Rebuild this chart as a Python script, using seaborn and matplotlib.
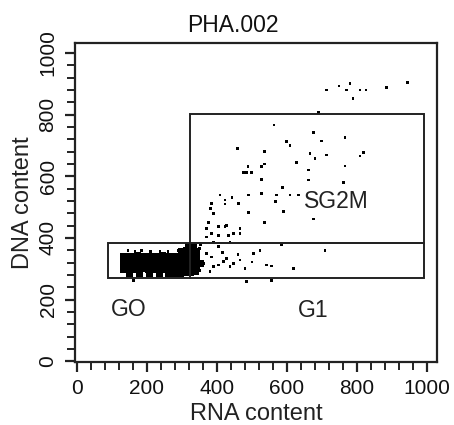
import matplotlib
matplotlib.use("Agg")
import matplotlib.pyplot as plt
import seaborn as sns
import pandas as pd
from matplotlib.patches import Rectangle
from matplotlib.ticker import MultipleLocator

# ---------------- data ----------------
title = "PHA.002"
x_label = "RNA content"
y_label = "DNA content"
x_ticks = [0, 200, 400, 600, 800, 1000]
y_ticks = [0, 200, 400, 600, 800, 1000]

# gates
gate_names = ["GO", "G1", "SG2M"]
gate_x0 = [89, 323, 323]
gate_x1 = [323, 991, 991]
gate_y0 = [270, 270, 383]
gate_y1 = [383, 383, 801]
label_names = ["GO", "G1", "SG2M"]
label_x = [98, 632, 650]
label_y = [169, 166, 517]

# dense G0 cluster
blob_x = [132, 146, 160, 174, 188, 202, 216, 230, 244, 258, 272, 286, 300, 314, 326,
          132, 146, 160, 174, 188, 202, 216, 230, 244, 258, 272, 286, 300, 314, 326, 340,
          132, 146, 160, 174, 188, 202, 216, 230, 244, 258, 272, 286, 300, 314, 326, 340, 354,
          134, 148, 162, 176, 190, 204, 218, 232, 246, 260, 274, 288, 302, 316, 328, 342,
          150, 178, 206, 236, 262, 280, 296, 310, 324, 338,
          300, 314, 328, 342, 318, 332]
blob_y = [340, 341, 339, 342, 340, 338, 341, 340, 342, 339, 341, 340, 342, 344, 345,
          326, 325, 327, 326, 324, 326, 327, 325, 326, 328, 326, 325, 327, 328, 330, 332,
          312, 313, 311, 312, 314, 312, 311, 313, 312, 311, 313, 312, 314, 313, 315, 316, 318,
          298, 299, 297, 298, 300, 298, 297, 299, 298, 297, 299, 298, 300, 301, 302, 304,
          284, 285, 283, 285, 284, 286, 285, 287, 288, 290,
          356, 358, 360, 355, 372, 370]

# sparse events
sparse_x = [713, 749, 771, 780, 789, 809, 826, 885, 944, 690,
            563, 677, 766, 599, 609, 699, 458, 537, 666, 680, 713, 818, 809, 628, 535,
            528, 489, 485, 475, 499, 766, 661, 661, 528, 761, 588, 609, 633, 571, 528,
            490, 443, 423, 409, 385, 381, 390, 423, 462, 567, 590, 490, 537, 677, 376,
            371, 405, 423, 466, 404, 385, 433, 466, 428, 447, 371, 390, 437,
            585, 709, 523, 504, 542, 556, 618, 485, 556, 161,
            351, 370, 385, 361, 390, 404, 419, 428, 447, 466, 437, 351, 380, 404, 354,
            480, 500, 460, 415,
            146, 166, 185, 209, 237, 260, 289, 309, 200, 240, 270]
sparse_y = [880, 893, 880, 901, 853, 880, 880, 888, 904, 806,
            766, 741, 725, 712, 701, 714, 691, 680, 674, 658, 669, 676, 666, 645, 640,
            631, 631, 613, 613, 613, 633, 620, 588, 590, 579, 563, 539, 539, 539, 545,
            539, 532, 523, 539, 512, 496, 480, 510, 512, 519, 485, 483, 450, 461, 450,
            431, 436, 436, 431, 409, 414, 409, 414, 441, 414, 403, 387, 387,
            377, 358, 358, 349, 312, 309, 301, 258, 263, 263,
            366, 349, 338, 317, 306, 312, 323, 333, 317, 328, 306, 295, 290, 371, 377,
            300, 322, 345, 352,
            358, 356, 358, 355, 357, 355, 358, 356, 282, 282, 280]

# ---------------- plot ----------------
sns.set_theme(style="white")
plt.rcParams["font.family"] = ["Liberation Sans", "DejaVu Sans"]

fig = plt.figure(figsize=(4.54, 4.25), dpi=100)
ax = fig.add_axes([0.165, 0.148, 0.7976, 0.7506])

blob_df = pd.DataFrame({"x": blob_x, "y": blob_y})
sparse_df = pd.DataFrame({"x": sparse_x, "y": sparse_y})

sns.scatterplot(data=blob_df, x="x", y="y", ax=ax, marker="s", s=26,
                color="black", edgecolor="none", linewidth=0)
sns.scatterplot(data=sparse_df, x="x", y="y", ax=ax, marker="s", s=4,
                color="black", edgecolor="none", linewidth=0)

for x0, x1, y0, y1 in zip(gate_x0, gate_x1, gate_y0, gate_y1):
    ax.add_patch(Rectangle((x0, y0), x1 - x0, y1 - y0, fill=False,
                           edgecolor="#222222", linewidth=1.4, zorder=3))

for name, lx, ly in zip(label_names, label_x, label_y):
    ax.text(lx, ly, name, fontsize=16.5, color="#222222", ha="left", va="center")

ax.set_xlim(-6, 1029)
ax.set_ylim(-3, 1032)
ax.set_xticks(x_ticks)
ax.set_yticks(y_ticks)
ax.xaxis.set_minor_locator(MultipleLocator(40))
ax.yaxis.set_minor_locator(MultipleLocator(40))
ax.tick_params(axis="both", which="major", direction="out", length=7.5, width=1.6,
               color="#222222", labelsize=15, labelcolor="#111111", pad=5,
               bottom=True, left=True)
ax.tick_params(axis="both", which="minor", direction="out", length=6, width=1.4,
               color="#222222", bottom=True, left=True)
for lab in ax.get_yticklabels():
    lab.set_rotation(90)
    lab.set_va("center")

for sp in ax.spines.values():
    sp.set_color("#222222")
    sp.set_linewidth(1.6)

ax.set_xlabel(x_label, fontsize=17, color="#222222", labelpad=3)
ax.set_ylabel(y_label, fontsize=17, color="#222222", labelpad=3)
fig.text(233 / 454, 1 - 26 / 425, title, fontsize=16.5, ha="center", va="center",
         color="#111111")

fig.savefig("out.png", dpi=100)
